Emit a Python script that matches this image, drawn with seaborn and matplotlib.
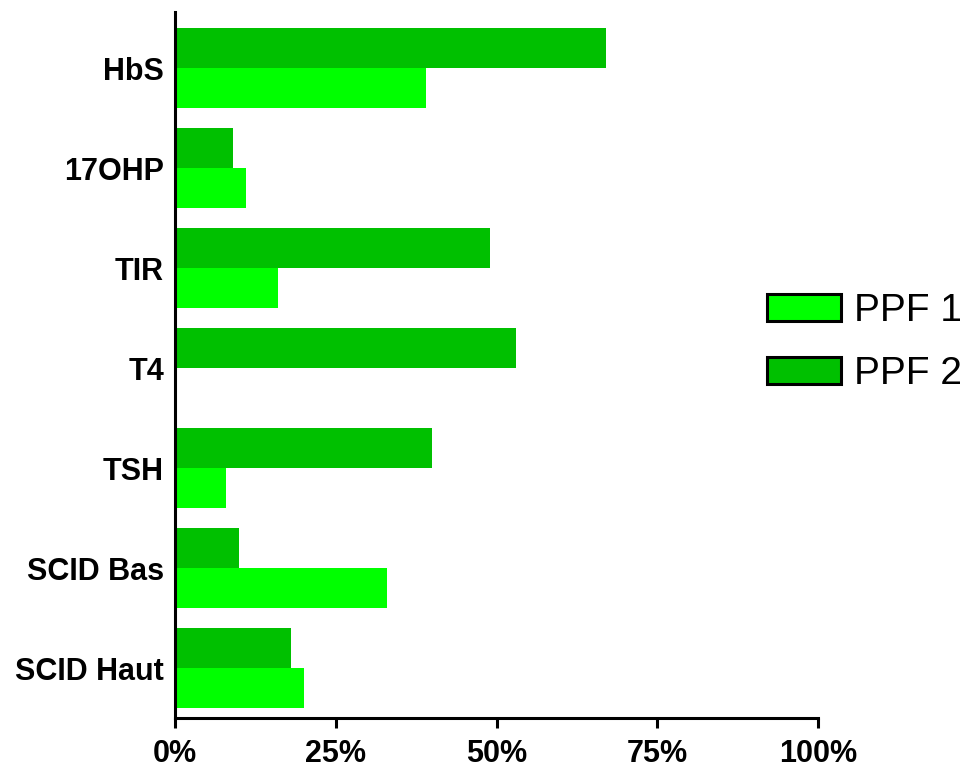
import matplotlib
matplotlib.use('Agg')
import matplotlib.pyplot as plt
from matplotlib.patches import Patch
import seaborn as sns
import pandas as pd

# data (percent)
tests = ['HbS', '17OHP', 'TIR', 'T4', 'TSH', 'SCID Bas', 'SCID Haut']
ppf1 = [39, 11, 16, 0, 8, 33, 20]
ppf2 = [67, 9, 49, 53, 40, 10, 18]
series = ['PPF 1', 'PPF 2']
colors = {'PPF 1': '#00FF00', 'PPF 2': '#00C000'}
xticks = [0, 25, 50, 75, 100]

sns.set_theme(style='white')
plt.rcParams['font.family'] = ['Liberation Sans', 'DejaVu Sans']
plt.rcParams['text.color'] = 'black'
plt.rcParams['xtick.color'] = 'black'
plt.rcParams['ytick.color'] = 'black'

df = pd.DataFrame({'Test': tests, 'PPF 1': ppf1, 'PPF 2': ppf2})
df = df.melt(id_vars='Test', var_name='Series', value_name='Value')

fig = plt.figure(figsize=(9.74, 7.71), dpi=100)
ax = fig.add_axes([175 / 974, 1 - 718 / 771, (818 - 175) / 974, (718 - 12) / 771])

sns.barplot(data=df, y='Test', x='Value', hue='Series', hue_order=['PPF 2', 'PPF 1'],
            order=tests, palette=colors, orient='h', width=0.8, saturation=1,
            edgecolor='none', linewidth=0, legend=False, ax=ax)

ax.set_xlim(0, 100)
ax.set_ylim(6.5, -0.56)
ax.set_xticks(xticks)
ax.set_xticklabels([f'{t}%' for t in xticks], fontsize=22, fontweight='bold')
ax.set_yticklabels(tests, fontsize=22, fontweight='bold')
ax.set_xlabel('')
ax.set_ylabel('')

sns.despine(ax=ax)
for side in ['left', 'bottom']:
    ax.spines[side].set_linewidth(2.2)
    ax.spines[side].set_color('black')
ax.tick_params(axis='x', bottom=True, direction='out', length=7, width=2.2,
               color='black', labelcolor='black', pad=8)
ax.tick_params(axis='y', left=False, length=0, pad=8, labelcolor='black')

handles = [Patch(facecolor=colors[s], edgecolor='black', linewidth=2.2, label=s) for s in series]
fig.legend(handles=handles, loc='upper left', bbox_to_anchor=(767 / 974, 1 - 293 / 771),
           frameon=False, fontsize=28, borderpad=0, borderaxespad=0,
           handlelength=1.9, handleheight=0.72, handletextpad=0.35, labelspacing=0.7)

fig.savefig('out.png', dpi=100)
